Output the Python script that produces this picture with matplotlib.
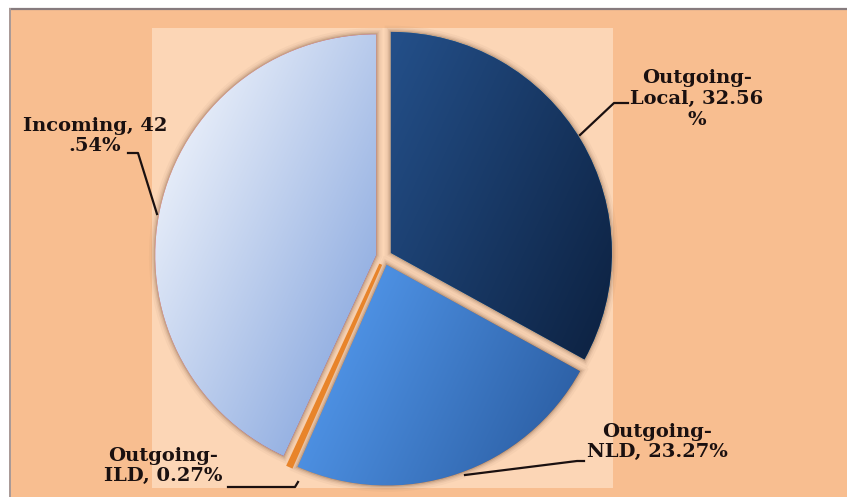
import numpy as np
import matplotlib
matplotlib.use("Agg")
import matplotlib.pyplot as plt
from matplotlib.patches import Rectangle, Wedge
from matplotlib.colors import to_rgb

# ---------------- data ----------------
categories = ["Outgoing-Local", "Outgoing-NLD", "Outgoing-ILD", "Incoming"]
shares = [32.56, 23.27, 0.27, 42.54]
label_texts = ["Outgoing-\nLocal, 32.56\n%", "Outgoing-\nNLD, 23.27%",
               "Outgoing-\nILD, 0.27%", "Incoming, 42\n.54%"]

# ---------------- styling ----------------
W, H = 847, 497
grad_colors = [("#24508a", "#0e2445"),   # Local
               ("#4d90e2", "#2e62a8"),   # NLD
               ("#f4a658", "#e07a20"),   # ILD
               ("#e4ebf8", "#98b3e3")]   # Incoming
glow_scale = [1.0, 1.0, 0.25, 1.0]

def Y(y):  # image row -> data y
    return H - y

fig = plt.figure(figsize=(W / 100, H / 100), dpi=100)
fig.patch.set_facecolor("white")
ax = fig.add_axes([0, 0, 1, 1])

cx, cy, R = 384, Y(257), 221
wedges, _ = ax.pie(shares, radius=R, center=(cx, cy), startangle=90,
                   counterclock=False, explode=[8] * 4,
                   wedgeprops=dict(linewidth=0, edgecolor="none"))
ax.set_xlim(0, W)
ax.set_ylim(0, H)
ax.set_aspect("equal")
ax.axis("off")

# backgrounds
ax.add_patch(Rectangle((9, 0), W - 9, H - 9, facecolor="#f8be90",
                       edgecolor="none", zorder=0))
ax.add_patch(Rectangle((152, Y(488)), 613 - 152, 488 - 28,
                       facecolor="#fcd6b6", edgecolor="none", zorder=0.2))
ax.plot([9, W], [Y(8.5), Y(8.5)], color="#867b7e", lw=1.6, zorder=0.3,
        solid_capstyle="butt")
ax.plot([9.5, 9.5], [0, Y(8)], color="#a89a98", lw=1.4, zorder=0.3,
        solid_capstyle="butt")

# gradient-filled wedges with a soft brownish glow
for i, (w, (c0, c1), gs) in enumerate(zip(wedges, grad_colors, glow_scale)):
    w.set_zorder(2)
    wc = w.center
    th1, th2 = w.theta1, w.theta2
    for lw, a in [(9, 0.05), (6, 0.08), (4, 0.12), (2, 0.22)]:
        g = Wedge(wc, w.r, th1, th2, facecolor="none",
                  edgecolor=(0.50, 0.36, 0.26, a), linewidth=lw * gs,
                  zorder=1.5)
        ax.add_patch(g)
    if i == 2:
        w.set_edgecolor("#e8842a")
        w.set_linewidth(2.2)
        w.set_facecolor("#e8842a")
        continue
    x0, x1 = wc[0] - R - 5, wc[0] + R + 5
    y0, y1 = wc[1] - R - 5, wc[1] + R + 5
    n = 300
    xs = np.linspace(x0, x1, n)
    ys = np.linspace(y0, y1, n)
    X, Yg = np.meshgrid(xs, ys)
    d = np.array([np.cos(np.deg2rad(-25)), np.sin(np.deg2rad(-25))])
    proj = (X - wc[0]) * d[0] + (Yg - wc[1]) * d[1]
    angs = np.deg2rad(np.linspace(th1, th2, 60))
    px = np.concatenate([[wc[0]], wc[0] + R * np.cos(angs)])
    py = np.concatenate([[wc[1]], wc[1] + R * np.sin(angs)])
    pp = (px - wc[0]) * d[0] + (py - wc[1]) * d[1]
    t = np.clip((proj - pp.min()) / (pp.max() - pp.min() + 1e-9), 0, 1)
    a0, a1 = np.array(to_rgb(c0)), np.array(to_rgb(c1))
    img = a0[None, None, :] * (1 - t[..., None]) + a1[None, None, :] * t[..., None]
    im = ax.imshow(img, extent=(x0, x1, y0, y1), origin="lower",
                   zorder=2.1, interpolation="bilinear")
    im.set_clip_path(w)

ax.set_xlim(0, W)
ax.set_ylim(0, H)

# labels
font = dict(family="DejaVu Serif", weight="bold", fontsize=14,
            color="#1a1010", ha="center", va="center", linespacing=1.2)
label_pos = [(697, 99), (657, 442), (163, 466), (95, 136)]
for txt, (lx, ly) in zip(label_texts, label_pos):
    ax.text(lx, Y(ly), txt, zorder=5, **font)

# leader lines
leaders = [
    [(628, 103), (614, 103), (580, 135)],
    [(584, 461), (577, 461), (465, 475)],
    [(228, 487), (295, 487), (298, 482)],
    [(128, 153), (138, 153), (157, 214)],
]
for pts in leaders:
    xs = [p[0] for p in pts]
    ys = [Y(p[1]) for p in pts]
    ax.plot(xs, ys, color="#1a1010", lw=1.6, zorder=5)

fig.savefig("out.png", dpi=100)
